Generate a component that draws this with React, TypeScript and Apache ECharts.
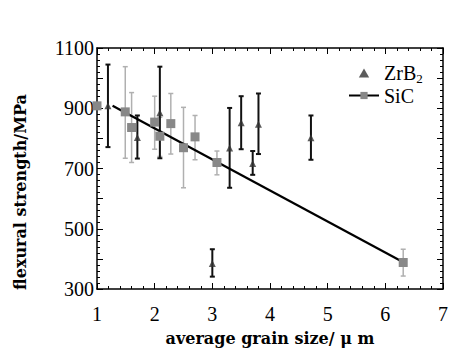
import React, { useEffect, useRef } from "react";
import * as echarts from "echarts";

// ZrB2 data
const zrX = [1.19, 1.7, 2.09, 3.0, 3.3, 3.5, 3.7, 3.8, 4.71];
const zrY = [908, 803, 885, 385, 768, 852, 717, 847, 802];
const zrLow = [771, 733, 734, 341, 636, 764, 679, 748, 729];
const zrHigh = [1045, 876, 1038, 432, 901, 940, 758, 949, 876];

// SiC data
const sicX = [1.0, 1.49, 1.6, 2.0, 2.09, 2.28, 2.5, 2.7, 3.08, 6.31];
const sicY = [908, 888, 836, 854, 807, 849, 769, 805, 720, 388];
const sicLow = [908, 734, 720, 764, 740, 748, 636, 729, 679, 343];
const sicHigh = [908, 1038, 952, 940, 870, 949, 903, 876, 758, 432];

// fitted line
const fitX = [1.27, 6.28];
const fitY = [908, 392];

const xTicks = [1, 2, 3, 4, 5, 6, 7];
const yTickLabels = [300, 500, 700, 900, 1100];

const FONT = "Liberation Serif";
const TFONT = "DejaVu Serif";

function errRender(color: string, lw: number) {
  return (params: any, api: any) => {
    const x = api.value(0);
    const lo = api.value(1);
    const hi = api.value(2);
    const p1 = api.coord([x, lo]);
    const p2 = api.coord([x, hi]);
    const cw = 2.5;
    const st = { stroke: color, lineWidth: lw };
    return {
      type: "group",
      children: [
        { type: "line", shape: { x1: p1[0], y1: p1[1], x2: p2[0], y2: p2[1] }, style: st },
        { type: "line", shape: { x1: p1[0] - cw, y1: p1[1], x2: p1[0] + cw, y2: p1[1] }, style: st },
        { type: "line", shape: { x1: p2[0] - cw, y1: p2[1], x2: p2[0] + cw, y2: p2[1] }, style: st },
      ],
    };
  };
}

export default function App() {
  const ref = useRef<HTMLDivElement>(null);
  useEffect(() => {
    if (!ref.current) return;
    const chart = echarts.init(ref.current, null, { renderer: "svg" });
    const axisLine = { show: true, lineStyle: { color: "#000", width: 1.5 } };
    const tick = { show: true, inside: true, length: 6, lineStyle: { color: "#000", width: 1 } };
    const minor = { show: true, splitNumber: 5, length: 3, lineStyle: { color: "#000", width: 1 } };
    const labelStyle = { fontFamily: FONT, fontSize: 20, color: "#000" };
    const titleStyle = { fontFamily: TFONT, fontSize: 16, fontWeight: "bold" as const, color: "#000" };

    chart.setOption({
      animation: false,
      backgroundColor: "#fff",
      grid: { left: 97, right: 5, top: 48, bottom: 54, containLabel: false },
      graphic: [
        {
          type: "text",
          x: 20,
          y: 192,
          rotation: Math.PI / 2,
          style: {
            text: "flexural strength/MPa",
            fontFamily: TFONT,
            fontSize: 16,
            fontWeight: "bold",
            fill: "#000",
            align: "center",
            verticalAlign: "middle",
          },
        },
      ],
      legend: {
        orient: "vertical",
        left: 343,
        top: 58,
        itemWidth: 30,
        itemHeight: 9,
        itemGap: 1,
        symbolKeepAspect: true,
        textStyle: {
          fontFamily: FONT,
          fontSize: 20,
          color: "#000",
          rich: {
            a: { fontFamily: FONT, fontSize: 20, color: "#000" },
            s: { fontFamily: FONT, fontSize: 13, color: "#000", verticalAlign: "bottom", padding: [10, 0, 0, 0] },
          },
        },
        formatter: (name: string) => (name === "ZrB2" ? "{a|ZrB}{s|2}" : "{a|" + name + "}"),
        data: [
          { name: "ZrB2", icon: "path://M0,8L4.6,0L9.2,8Z", itemStyle: { color: "#333" } },
          { name: "SiC", lineStyle: { color: "#000", width: 2, opacity: 1 } },
        ],
      },
      xAxis: [
        {
          type: "value",
          min: 1,
          max: 7,
          interval: 1,
          position: "bottom",
          axisLine,
          axisTick: tick,
          minorTick: minor,
          splitLine: { show: false },
          axisLabel: { ...labelStyle, margin: 15, formatter: (v: number) => (xTicks.includes(v) ? String(v) : "") },
          name: "average grain size/ \u03bc m",
          nameLocation: "middle",
          nameGap: 41,
          nameTextStyle: titleStyle,
        },
        {
          type: "value",
          min: 1,
          max: 7,
          interval: 1,
          position: "top",
          axisLine,
          axisTick: tick,
          minorTick: minor,
          splitLine: { show: false },
          axisLabel: { show: false },
        },
      ],
      yAxis: [
        {
          type: "value",
          min: 300,
          max: 1100,
          interval: 100,
          position: "left",
          axisLine,
          axisTick: tick,
          minorTick: minor,
          splitLine: { show: false },
          axisLabel: {
            ...labelStyle,
            margin: 3,
            formatter: (v: number) => (yTickLabels.includes(v) ? String(v) : ""),
          },
        },
        {
          type: "value",
          min: 300,
          max: 1100,
          interval: 100,
          position: "right",
          axisLine,
          axisTick: tick,
          minorTick: minor,
          splitLine: { show: false },
          axisLabel: { show: false },
        },
      ],
      series: [
        {
          type: "custom",
          name: "sicErr",
          renderItem: errRender("#b0b0b0", 1.5),
          data: sicX.map((x, i) => [x, sicLow[i], sicHigh[i]]),
          encode: { x: 0, y: [1, 2] },
          z: 1,
          silent: true,
        },
        {
          type: "custom",
          name: "zrErr",
          renderItem: errRender("#111", 2),
          data: zrX.map((x, i) => [x, zrLow[i], zrHigh[i]]),
          encode: { x: 0, y: [1, 2] },
          z: 2,
          silent: true,
        },
        {
          type: "line",
          name: "fit",
          data: fitX.map((x, i) => [x, fitY[i]]),
          symbol: "none",
          lineStyle: { color: "#000", width: 2.2 },
          z: 3,
        },
        {
          type: "line",
          name: "SiC",
          data: sicX.map((x, i) => [x, sicY[i]]),
          symbol: "rect",
          symbolSize: 9,
          itemStyle: { color: "#888" },
          lineStyle: { opacity: 0, width: 0 },
          z: 4,
        },
        {
          type: "scatter",
          name: "ZrB2",
          data: zrX.map((x, i) => [x, zrY[i]]),
          symbol: "triangle",
          symbolSize: 7,
          itemStyle: { color: "#333" },
          z: 5,
        },
      ],
    });
    return () => chart.dispose();
  }, []);
  return <div ref={ref} style={{ width: 451, height: 351, position: "absolute", left: 0, top: 0 }} />;
}
